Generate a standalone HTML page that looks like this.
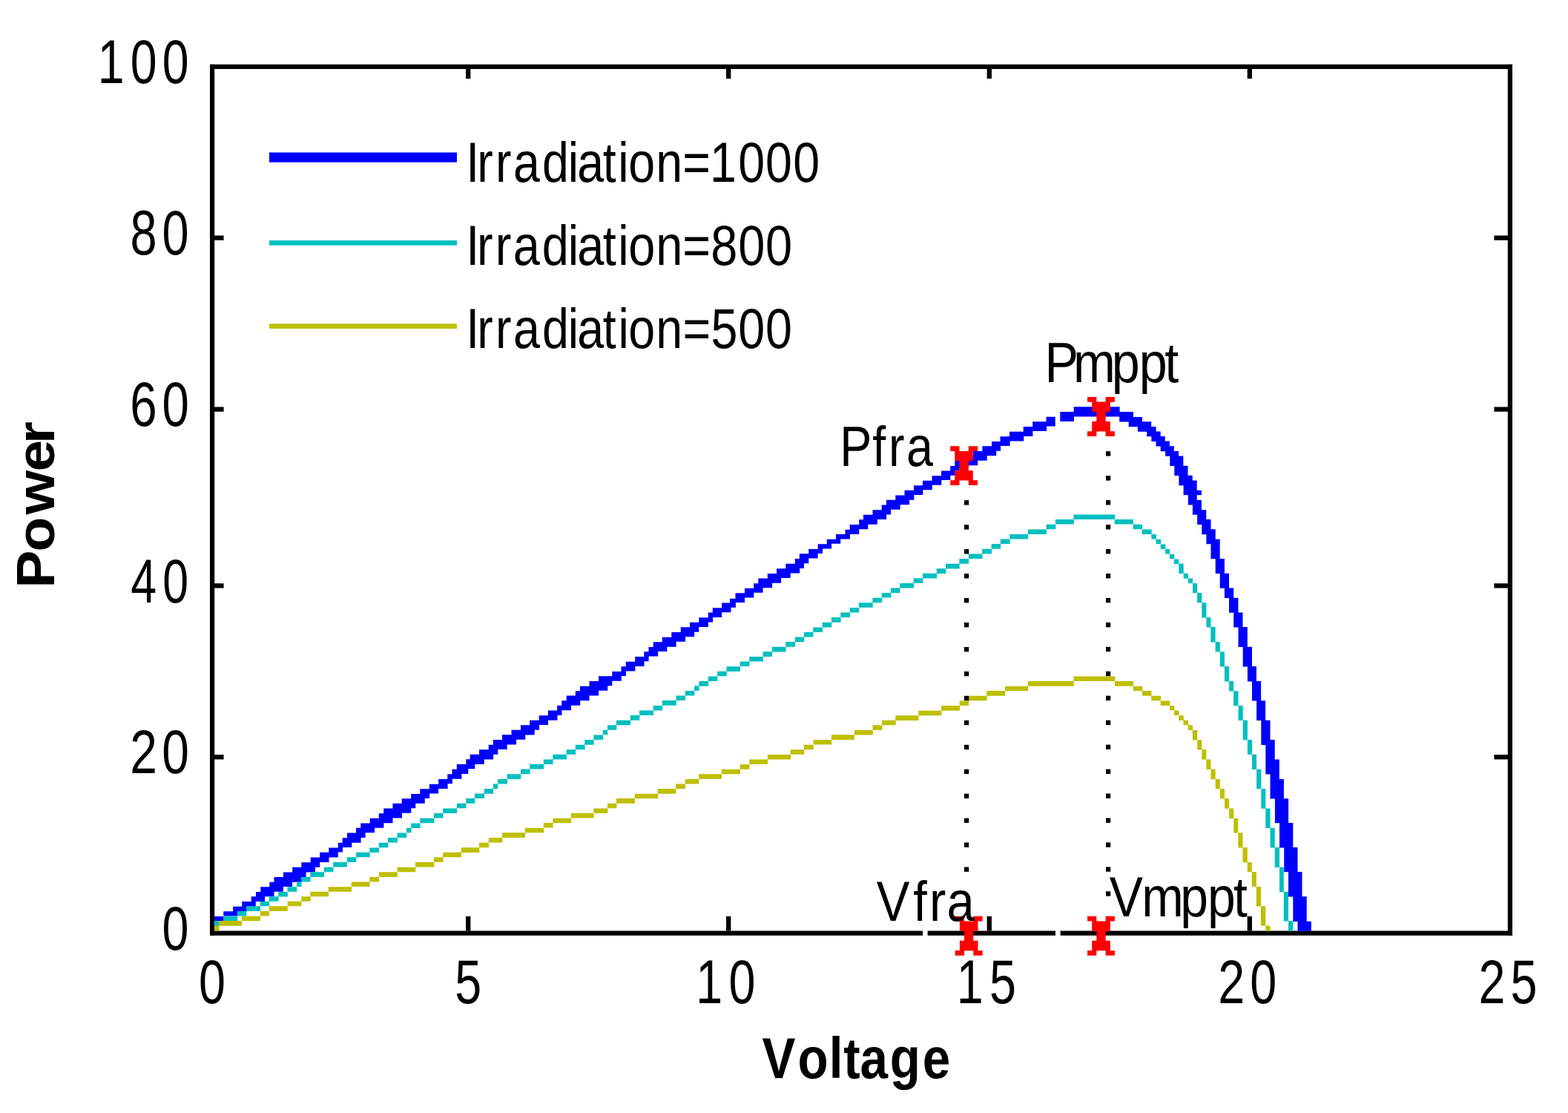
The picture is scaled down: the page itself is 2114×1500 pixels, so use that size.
<!DOCTYPE html>
<html><head><meta charset="utf-8"><title>PV curves</title>
<style>html,body{margin:0;padding:0;background:#fff;}svg{display:block;}</style>
</head><body>
<svg width="2114" height="1500" viewBox="0 0 2114 1500" font-family="'Liberation Sans', Arial, Helvetica, sans-serif">
<rect width="2114" height="1500" fill="#fff"/>
<rect x="283" y="86.8" width="6.2" height="1174" fill="#000"/>
<rect x="2032.8" y="86.8" width="6.2" height="1174" fill="#000"/>
<rect x="283" y="86.8" width="1756" height="6.2" fill="#000"/>
<rect x="283" y="1254.5" width="1756" height="6.3" fill="#000"/>
<rect x="628.05" y="93" width="6.3" height="13" fill="#000"/>
<rect x="628.05" y="1234.9" width="6.3" height="19.6" fill="#000"/>
<rect x="979.05" y="93" width="6.3" height="13" fill="#000"/>
<rect x="979.05" y="1234.9" width="6.3" height="19.6" fill="#000"/>
<rect x="1330.65" y="93" width="6.3" height="13" fill="#000"/>
<rect x="1330.65" y="1234.9" width="6.3" height="19.6" fill="#000"/>
<rect x="1681.65" y="93" width="6.3" height="13" fill="#000"/>
<rect x="1681.65" y="1234.9" width="6.3" height="19.6" fill="#000"/>
<rect x="289" y="317.45" width="12.6" height="6.3" fill="#000"/>
<rect x="2014.4" y="317.45" width="18.6" height="6.3" fill="#000"/>
<rect x="289" y="548.45" width="12.6" height="6.3" fill="#000"/>
<rect x="2014.4" y="548.45" width="18.6" height="6.3" fill="#000"/>
<rect x="289" y="786.25" width="12.6" height="6.3" fill="#000"/>
<rect x="2014.4" y="786.25" width="18.6" height="6.3" fill="#000"/>
<rect x="289" y="1017.15" width="12.6" height="6.3" fill="#000"/>
<rect x="2014.4" y="1017.15" width="18.6" height="6.3" fill="#000"/>
<rect x="1244" y="1254" width="6.6" height="7.5" fill="#fff"/>
<rect x="1423" y="1254" width="6.6" height="7.5" fill="#fff"/>
<path d="M289.0 1235.0h12.6v6.6h-12.6zM301.3 1228.3h13.2v6.3h-13.2zM314.2 1221.7h5.9v12.9h-5.9zM319.8 1221.7h6.8v6.6h-6.8zM326.3 1215.0h6.2v13.3h-6.2zM332.2 1215.0h6.8v6.7h-6.8zM338.7 1208.3h6.1v13.4h-6.1zM344.5 1208.3h0.8v6.7h-0.8zM345.0 1202.0h6.6v13.0h-6.6zM351.3 1195.3h5.8v19.7h-5.8zM356.8 1195.3h6.8v13.0h-6.8zM363.3 1188.7h6.2v19.6h-6.2zM369.2 1188.7h0.6v13.0h-0.6zM369.5 1182.0h12.3v19.7h-12.3zM381.5 1182.0h0.8v13.0h-0.8zM382.0 1175.5h12.1v19.5h-12.1zM393.8 1175.5h0.7v13.2h-0.7zM394.2 1168.8h12.3v20.0h-12.3zM406.2 1168.8h0.4v13.3h-0.4zM406.3 1162.2h6.3v19.9h-6.3zM412.3 1162.2h6.7v13.2h-6.7zM418.7 1155.5h6.3v19.9h-6.3zM424.7 1155.5h6.6v13.2h-6.6zM431.0 1155.5h0.5v6.6h-0.5zM431.2 1148.8h12.3v13.3h-12.3zM443.2 1148.8h0.4v6.6h-0.4zM443.3 1142.5h12.5v12.9h-12.5zM455.5 1142.5h0.6v6.0h-0.6zM455.8 1135.8h6.2v12.7h-6.2zM461.7 1129.2h6.6v12.9h-6.6zM468.0 1122.5h6.3v19.6h-6.3zM474.0 1122.5h6.3v13.2h-6.3zM480.0 1115.8h6.6v19.9h-6.6zM486.3 1109.5h6.3v19.5h-6.3zM492.3 1109.5h6.7v12.8h-6.7zM498.7 1102.8h6.4v19.5h-6.4zM504.8 1102.8h6.3v13.0h-6.3zM510.8 1096.2h6.6v19.6h-6.6zM517.1 1096.2h0.4v13.0h-0.4zM517.2 1089.5h12.3v19.7h-12.3zM529.2 1089.5h0.6v13.0h-0.6zM529.5 1082.8h12.5v19.7h-12.5zM541.7 1076.2h12.6v19.6h-12.6zM554.0 1076.2h0.5v13.0h-0.5zM554.2 1070.0h6.1v19.2h-6.1zM560.0 1070.0h6.6v12.7h-6.6zM566.3 1063.3h6.5v19.4h-6.5zM572.5 1063.3h6.6v12.7h-6.6zM578.8 1056.7h12.3v12.9h-12.3zM590.8 1056.7h0.7v6.2h-0.7zM591.2 1050.0h12.4v12.9h-12.4zM603.3 1043.3h6.5v13.0h-6.5zM609.5 1036.7h0.4v19.6h-0.4zM609.6 1036.7h6.5v13.1h-6.5zM615.8 1030.0h6.6v19.8h-6.6zM622.1 1030.0h6.5v12.9h-6.5zM628.3 1023.3h3.0v19.6h-3.0zM631.0 1023.3h3.0v13.0h-3.0zM633.7 1016.7h6.6v19.6h-6.6zM640.0 1016.7h6.3v13.3h-6.3zM646.0 1010.3h6.8v19.7h-6.8zM652.5 1010.3h6.5v13.2h-6.5zM658.7 1003.7h6.4v19.8h-6.4zM664.8 997.0h6.5v19.8h-6.5zM671.0 997.0h6.3v13.0h-6.3zM677.0 990.3h6.6v19.7h-6.6zM683.3 990.3h6.5v13.2h-6.5zM689.5 983.8h6.6v19.7h-6.6zM695.8 983.8h6.5v13.0h-6.5zM702.0 977.2h6.2v19.6h-6.2zM707.9 977.2h6.6v13.2h-6.6zM714.2 970.8h6.5v19.6h-6.5zM720.4 970.8h6.6v13.0h-6.6zM726.7 964.2h12.3v12.9h-12.3zM738.8 957.5h12.7v13.2h-12.7zM751.1 957.5h0.4v6.5h-0.4zM751.2 950.8h6.3v13.2h-6.3zM757.3 944.2h6.7v13.1h-6.7zM763.7 937.5h6.3v19.8h-6.3zM769.8 937.5h6.3v13.3h-6.3zM775.8 931.2h6.4v19.6h-6.4zM781.9 931.2h0.4v13.0h-0.4zM782.0 924.7h12.5v19.5h-12.5zM794.2 924.7h0.6v12.8h-0.6zM794.5 918.0h12.6v19.5h-12.6zM806.8 918.0h0.5v12.8h-0.5zM807.0 911.3h12.3v19.5h-12.3zM819.0 911.3h6.3v12.9h-6.3zM825.0 911.3h0.6v6.4h-0.6zM825.3 905.0h12.5v12.7h-12.5zM837.5 898.3h6.5v12.7h-6.5zM843.8 891.7h12.6v12.9h-12.6zM856.0 891.7h0.5v6.2h-0.5zM856.2 885.0h12.3v12.9h-12.3zM868.2 885.0h0.4v6.2h-0.4zM868.3 878.3h6.3v13.0h-6.3zM874.3 878.3h0.5v6.3h-0.5zM874.5 872.0h6.5v12.6h-6.5zM880.7 865.3h6.4v19.3h-6.4zM886.8 865.3h6.3v12.8h-6.3zM892.8 858.7h6.5v19.4h-6.5zM899.0 858.7h6.6v13.0h-6.6zM905.3 852.0h6.3v19.7h-6.3zM911.2 852.0h6.8v12.8h-6.8zM917.8 845.3h6.3v19.5h-6.3zM923.8 845.3h6.5v13.0h-6.5zM930.0 838.8h6.1v19.5h-6.1zM935.8 838.8h6.5v12.9h-6.5zM942.0 838.8h0.6v6.2h-0.6zM942.3 832.2h12.6v12.8h-12.6zM954.6 832.2h0.5v6.3h-0.5zM954.8 825.5h6.3v13.0h-6.3zM960.8 819.2h12.4v12.8h-12.4zM972.9 819.2h0.6v6.1h-0.6zM973.2 812.5h11.1v12.8h-11.1zM984.0 806.7h1.5v18.6h-1.5zM985.2 806.7h6.6v12.0h-6.6zM991.5 799.2h0.5v19.5h-0.5zM991.7 799.2h12.3v12.8h-12.3zM1003.8 799.2h0.6v6.3h-0.6zM1004.0 792.8h12.3v12.7h-12.3zM1016.0 792.8h0.5v6.0h-0.5zM1016.2 786.2h6.4v12.6h-6.4zM1022.3 779.5h6.3v19.3h-6.3zM1028.3 779.5h6.8v12.8h-6.8zM1034.8 773.0h6.3v19.3h-6.3zM1040.8 773.0h6.5v12.7h-6.5zM1047.0 766.3h6.2v19.4h-6.2zM1052.9 766.3h6.7v12.8h-6.7zM1059.3 759.7h6.4v19.4h-6.4zM1065.4 759.7h6.7v12.7h-6.7zM1071.8 753.0h6.3v19.4h-6.3zM1077.8 746.3h0.4v26.1h-0.4zM1077.9 746.3h6.1v19.6h-6.1zM1083.8 746.3h6.5v13.0h-6.5zM1090.0 746.3h0.5v6.3h-0.5zM1090.2 740.0h12.4v12.6h-12.4zM1102.3 740.0h0.7v6.1h-0.7zM1102.7 733.3h6.3v12.8h-6.3zM1108.8 733.3h6.3v6.2h-6.3zM1114.8 726.7h6.3v12.8h-6.3zM1120.8 726.7h6.5v6.0h-6.5zM1127.0 720.0h6.2v12.8h-6.2zM1132.9 720.0h6.9v6.4h-6.9zM1139.5 713.7h6.5v12.7h-6.5zM1145.7 707.0h12.5v12.9h-12.5zM1157.9 707.0h0.6v6.2h-0.6zM1158.2 700.3h6.1v13.0h-6.1zM1164.0 693.8h6.3v19.5h-6.3zM1170.0 693.8h6.8v13.0h-6.8zM1176.5 687.2h6.3v19.6h-6.3zM1182.5 687.2h6.5v12.7h-6.5zM1188.7 680.5h6.4v19.4h-6.4zM1194.8 673.8h6.3v19.7h-6.3zM1200.8 673.8h6.8v13.0h-6.8zM1207.3 667.5h6.3v19.2h-6.3zM1213.3 667.5h6.5v12.7h-6.5zM1219.5 660.8h6.6v19.4h-6.6zM1225.8 660.8h6.5v12.9h-6.5zM1232.0 654.2h0.4v19.5h-0.4zM1232.1 654.2h12.2v12.8h-12.2zM1244.0 647.8h12.8v12.5h-12.8zM1256.5 641.2h12.8v12.5h-12.8zM1269.0 634.5h12.3v12.5h-12.3zM1281.0 634.5h0.5v6.2h-0.5zM1281.2 628.0h6.4v12.8h-6.4zM1287.3 621.1h0.5v19.6h-0.5zM1287.5 621.1h6.1v12.9h-6.1zM1293.3 621.1h6.5v9.4h-6.5zM1299.5 614.5h6.6v16.0h-6.6zM1305.8 614.5h6.6v12.8h-6.6zM1312.1 608.0h6.1v19.3h-6.1zM1317.9 608.0h6.8v12.7h-6.8zM1324.4 601.3h6.3v19.4h-6.3zM1330.4 601.3h6.9v12.9h-6.9zM1337.0 595.0h6.2v19.2h-6.2zM1342.9 595.0h5.9v12.7h-5.9zM1348.5 588.3h0.6v19.4h-0.6zM1348.8 588.3h12.6v12.7h-12.6zM1361.0 581.7h0.6v19.3h-0.6zM1361.2 581.7h18.8v12.9h-18.8zM1379.7 575.0h0.6v19.6h-0.6zM1380.0 575.0h12.4v12.9h-12.4zM1392.1 575.0h0.4v6.0h-0.4zM1392.2 568.3h18.6v12.7h-18.6zM1410.5 561.7h0.5v19.3h-0.5zM1410.7 561.7h12.0v12.9h-12.0zM1429.3 555.0h18.7v12.9h-18.7zM1447.7 548.3h61.9v13.2h-61.9zM1509.2 555.1h18.7v7.1h-18.7zM1509.2 561.9h30.7v6.7h-30.7zM1521.7 568.3h30.5v6.9h-30.5zM1533.9 574.9h24.7v6.8h-24.7zM1546.2 581.4h18.5v6.9h-18.5zM1552.4 588.0h18.3v6.9h-18.3zM1558.5 594.6h18.4v7.0h-18.4zM1564.7 601.3h18.1v7.0h-18.1zM1571.1 608.0h17.9v6.8h-17.9zM1577.3 614.5h18.0v13.5h-18.0zM1583.3 627.7h18.2v13.4h-18.2zM1589.4 640.8h18.3v7.0h-18.3zM1589.4 647.5h24.3v6.7h-24.3zM1595.6 653.9h18.1v7.1h-18.1zM1595.6 660.7h24.3v6.5h-24.3zM1601.8 666.9h11.9v7.3h-11.9zM1601.8 673.9h18.1v6.7h-18.1zM1607.9 680.3h12.0v7.2h-12.0zM1607.9 687.2h18.3v6.5h-18.3zM1614.1 693.4h12.1v7.0h-12.1zM1614.1 700.1h18.4v6.9h-18.4zM1620.3 706.7h12.2v6.9h-12.2zM1620.3 713.3h18.4v6.9h-18.4zM1626.4 719.9h12.3v7.2h-12.3zM1626.4 726.8h18.3v6.5h-18.3zM1632.5 733.0h12.2v20.2h-12.2zM1638.7 752.9h12.2v20.1h-12.2zM1644.7 772.7h12.3v20.0h-12.3zM1650.9 792.4h12.3v13.6h-12.3zM1657.0 805.7h12.4v20.1h-12.4zM1663.2 825.5h12.3v20.0h-12.3zM1669.5 845.1h12.3v27.0h-12.3zM1675.7 871.8h12.3v26.6h-12.3zM1681.9 898.1h12.0v20.3h-12.0zM1688.0 918.1h12.1v26.4h-12.1zM1694.1 944.2h12.0v26.8h-12.0zM1700.3 970.7h12.2v26.6h-12.2zM1700.3 997.0h18.4v7.0h-18.4zM1706.3 1003.7h12.4v20.1h-12.4zM1706.3 1023.5h18.5v20.0h-18.5zM1712.5 1043.2h12.3v7.0h-12.3zM1712.5 1049.9h18.4v26.7h-18.4zM1718.9 1076.3h18.2v33.0h-18.2zM1725.0 1109.0h18.3v33.4h-18.3zM1731.2 1142.1h18.3v33.2h-18.3zM1737.0 1175.0h18.5v33.6h-18.5zM1743.3 1208.3h18.4v33.7h-18.4zM1749.5 1241.7h18.3v13.1h-18.3z" fill="#0000ff"/>
<path d="M289.0 1241.1h6.6v6.6h-6.6zM301.3 1234.7h19.0v6.6h-19.0zM320.0 1228.0h12.3v6.6h-12.3zM332.0 1221.3h19.1v6.6h-19.1zM350.8 1214.7h12.3v6.6h-12.3zM362.8 1208.2h12.8v6.6h-12.8zM375.3 1201.9h12.5v6.6h-12.5zM387.5 1195.2h12.8v6.6h-12.8zM400.0 1188.5h6.5v6.6h-6.5zM406.2 1181.9h12.4v6.6h-12.4zM418.3 1175.3h18.7v6.6h-18.7zM436.7 1168.7h12.8v6.6h-12.8zM449.2 1162.0h18.9v6.6h-18.9zM467.8 1155.3h12.5v6.6h-12.5zM480.0 1148.7h18.6v6.6h-18.6zM498.3 1142.4h12.8v6.6h-12.8zM510.8 1135.7h12.5v6.6h-12.5zM523.0 1129.0h12.8v6.6h-12.8zM535.5 1122.4h12.8v6.6h-12.8zM548.0 1115.7h6.5v6.6h-6.5zM554.2 1109.4h12.4v6.6h-12.4zM566.3 1102.7h19.0v6.6h-19.0zM585.0 1096.0h12.5v6.6h-12.5zM597.2 1089.4h18.9v6.6h-18.9zM615.8 1082.7h12.8v6.6h-12.8zM628.3 1076.1h12.0v6.6h-12.0zM640.0 1069.5h13.1v6.6h-13.1zM652.8 1063.1h12.3v6.6h-12.3zM664.8 1056.5h6.5v6.6h-6.5zM671.0 1050.0h13.0v6.6h-13.0zM683.7 1043.3h18.6v6.6h-18.6zM702.0 1036.6h12.5v6.6h-12.5zM714.2 1030.0h18.9v6.6h-18.9zM732.8 1023.5h12.8v6.6h-12.8zM745.3 1016.8h18.7v6.6h-18.7zM763.7 1010.2h12.4v6.6h-12.4zM775.8 1003.7h12.8v6.6h-12.8zM788.3 997.1h12.3v6.6h-12.3zM800.3 990.4h12.8v6.6h-12.8zM812.8 983.7h6.5v6.6h-6.5zM819.0 977.2h12.3v6.6h-12.3zM831.0 970.7h19.1v6.6h-19.1zM849.8 964.1h12.5v6.6h-12.5zM862.0 957.5h19.0v6.6h-19.0zM880.7 950.9h12.4v6.6h-12.4zM892.8 944.1h19.0v6.6h-19.0zM911.5 937.5h12.5v6.6h-12.5zM923.7 930.9h12.6v6.6h-12.6zM936.0 924.5h6.6v6.6h-6.6zM942.3 918.1h12.8v6.6h-12.8zM954.8 911.4h12.5v6.6h-12.5zM967.0 904.7h12.8v6.6h-12.8zM979.5 898.3h18.5v6.6h-18.5zM997.7 891.5h12.8v6.6h-12.8zM1010.2 884.9h18.8v6.6h-18.8zM1028.7 878.3h12.4v6.6h-12.4zM1040.8 871.8h18.8v6.6h-18.8zM1059.3 865.1h12.8v6.6h-12.8zM1071.8 858.6h12.4v6.6h-12.4zM1083.9 851.9h12.6v6.6h-12.6zM1096.2 845.4h12.8v6.6h-12.8zM1108.7 838.8h12.6v6.6h-12.6zM1121.0 832.1h12.6v6.6h-12.6zM1133.3 825.5h12.6v6.6h-12.6zM1145.6 818.9h12.6v6.6h-12.6zM1157.9 812.2h18.8v6.6h-18.8zM1176.4 805.7h12.6v6.6h-12.6zM1188.7 799.0h12.6v6.6h-12.6zM1201.0 792.5h12.5v6.6h-12.5zM1213.2 786.0h18.8v6.6h-18.8zM1231.7 779.3h12.6v6.6h-12.6zM1244.0 772.8h19.0v6.6h-19.0zM1262.7 766.3h12.6v6.6h-12.6zM1275.0 759.8h18.6v6.6h-18.6zM1293.3 753.1h12.8v6.6h-12.8zM1305.8 746.4h18.7v6.6h-18.7zM1324.2 739.8h12.8v6.6h-12.8zM1336.7 733.1h12.4v6.6h-12.4zM1348.8 726.4h12.8v6.6h-12.8zM1361.3 720.0h24.8v6.6h-24.8zM1385.8 713.4h25.0v6.6h-25.0zM1410.5 706.7h12.8v6.6h-12.8zM1423.0 700.0h24.8v6.6h-24.8zM1447.5 693.5h55.6v6.6h-55.6zM1502.8 700.0h25.2v6.6h-25.2zM1527.7 706.7h12.3v6.6h-12.3zM1539.7 713.4h12.9v6.6h-12.9zM1552.3 720.0h6.5v6.6h-6.5zM1558.5 726.7h6.5v6.6h-6.5zM1564.7 733.4h6.6v6.6h-6.6zM1571.0 740.0h6.1v6.6h-6.1zM1576.8 746.7h6.5v6.6h-6.5zM1583.0 753.4h6.3v6.6h-6.3zM1589.3 759.5h6.4v13.5h-6.4zM1595.7 772.7h6.2v7.0h-6.2zM1601.9 779.4h6.1v6.9h-6.1zM1608.0 786.0h6.1v13.3h-6.1zM1614.1 799.0h6.2v13.6h-6.2zM1620.3 812.3h6.1v20.1h-6.1zM1626.4 832.1h6.0v13.4h-6.0zM1632.3 845.1h6.3v20.3h-6.3zM1638.6 865.1h6.2v13.4h-6.2zM1644.8 878.2h6.1v20.2h-6.1zM1650.9 898.1h6.2v20.3h-6.2zM1657.1 918.1h6.0v13.4h-6.0zM1663.1 931.2h6.4v20.0h-6.4zM1669.5 950.9h6.2v20.1h-6.2zM1675.7 970.7h6.2v26.6h-6.2zM1681.9 997.0h6.1v20.0h-6.1zM1688.0 1016.7h6.1v20.4h-6.1zM1694.1 1036.8h6.2v26.4h-6.2zM1700.3 1062.9h6.0v26.8h-6.0zM1706.3 1089.4h6.2v26.6h-6.2zM1712.5 1115.7h6.2v26.7h-6.2zM1718.7 1142.1h6.3v26.9h-6.3zM1725.0 1168.7h5.8v33.3h-5.8zM1730.8 1201.7h6.2v39.9h-6.2zM1737.0 1241.3h6.3v13.5h-6.3z" fill="#00bfbf"/>
<path d="M289.0 1247.7h6.6v6.6h-6.6zM295.3 1241.1h30.8v6.6h-30.8zM325.8 1234.7h25.3v6.6h-25.3zM350.8 1228.0h12.3v6.6h-12.3zM362.8 1221.3h25.0v6.6h-25.0zM387.5 1214.7h19.0v6.6h-19.0zM406.2 1208.2h12.4v6.6h-12.4zM418.3 1201.7h24.8v6.6h-24.8zM442.8 1195.2h31.2v6.6h-31.2zM473.7 1188.5h24.9v6.6h-24.9zM498.3 1181.9h12.8v6.6h-12.8zM510.8 1175.3h25.0v6.6h-25.0zM535.5 1168.7h24.8v6.6h-24.8zM560.0 1162.0h25.3v6.6h-25.3zM585.0 1155.3h12.5v6.6h-12.5zM597.2 1148.7h24.8v6.6h-24.8zM621.7 1142.3h24.6v6.6h-24.6zM646.0 1135.7h13.0v6.6h-13.0zM658.7 1128.9h18.6v6.6h-18.6zM677.0 1122.3h31.1v6.6h-31.1zM707.8 1115.7h25.3v6.6h-25.3zM732.8 1109.0h12.8v6.6h-12.8zM745.3 1102.7h24.8v6.6h-24.8zM769.8 1096.0h30.8v6.6h-30.8zM800.3 1089.4h19.0v6.6h-19.0zM819.0 1082.7h12.3v6.6h-12.3zM831.0 1076.1h25.1v6.6h-25.1zM855.8 1069.7h31.2v6.6h-31.2zM886.7 1063.1h24.6v6.6h-24.6zM911.0 1056.5h13.0v6.6h-13.0zM923.7 1049.9h18.6v6.6h-18.6zM942.0 1043.2h31.1v6.6h-31.1zM972.8 1036.7h25.2v6.6h-25.2zM997.7 1030.2h12.8v6.6h-12.8zM1010.2 1023.5h24.9v6.6h-24.9zM1034.8 1016.9h31.2v6.6h-31.2zM1065.7 1010.2h18.6v6.6h-18.6zM1084.0 1003.7h12.8v6.6h-12.8zM1096.5 997.0h24.8v6.6h-24.8zM1121.0 990.3h31.1v6.6h-31.1zM1151.8 983.9h25.0v6.6h-25.0zM1176.5 977.3h12.8v6.6h-12.8zM1189.0 970.7h18.6v6.6h-18.6zM1207.3 964.3h31.2v6.6h-31.2zM1238.2 957.7h31.1v6.6h-31.1zM1269.0 951.1h25.0v6.6h-25.0zM1293.7 944.4h12.4v6.6h-12.4zM1305.8 937.7h24.8v6.6h-24.8zM1330.3 931.1h25.0v6.6h-25.0zM1355.0 924.7h31.1v6.6h-31.1zM1385.8 918.1h62.0v6.6h-62.0zM1447.5 911.4h55.8v6.6h-55.8zM1503.0 918.1h25.1v6.6h-25.1zM1527.8 924.7h12.5v6.6h-12.5zM1540.0 931.1h12.5v6.6h-12.5zM1552.2 937.7h12.8v6.6h-12.8zM1564.7 944.4h12.6v6.6h-12.6zM1577.0 950.9h6.3v6.6h-6.3zM1583.0 957.5h6.5v6.6h-6.5zM1589.2 964.3h6.6v6.6h-6.6zM1595.5 970.7h6.5v6.6h-6.5zM1601.7 977.3h6.4v6.6h-6.4zM1607.8 984.0h6.4v13.5h-6.4zM1614.2 997.2h6.1v13.4h-6.1zM1620.3 1010.3h6.0v13.5h-6.0zM1626.3 1023.5h6.2v13.6h-6.2zM1632.5 1036.8h6.2v13.4h-6.2zM1638.7 1049.9h6.1v13.3h-6.1zM1644.8 1062.9h6.2v13.7h-6.2zM1651.0 1076.3h6.1v13.4h-6.1zM1657.1 1089.4h6.2v13.6h-6.2zM1663.3 1102.7h6.0v19.9h-6.0zM1669.3 1122.3h6.2v20.1h-6.2zM1675.5 1142.1h6.3v20.2h-6.3zM1681.8 1162.0h6.0v13.3h-6.0zM1687.8 1175.0h6.0v20.3h-6.0zM1693.8 1195.0h6.2v26.6h-6.2zM1700.0 1221.3h6.3v26.5h-6.3zM1706.3 1247.5h6.2v7.3h-6.2z" fill="#bfbf00"/>
<g fill="#000"><rect x="1300" y="674.2" width="6.2" height="6.4"/><rect x="1300" y="707.2" width="6.2" height="6.4"/><rect x="1300" y="740.1" width="6.2" height="6.4"/><rect x="1300" y="773.1" width="6.2" height="6.4"/><rect x="1300" y="806.0" width="6.2" height="6.4"/><rect x="1300" y="839.0" width="6.2" height="6.4"/><rect x="1300" y="872.0" width="6.2" height="6.4"/><rect x="1300" y="904.9" width="6.2" height="6.4"/><rect x="1300" y="937.8" width="6.2" height="6.4"/><rect x="1300" y="970.8" width="6.2" height="6.4"/><rect x="1300" y="1003.8" width="6.2" height="6.4"/><rect x="1300" y="1036.7" width="6.2" height="6.4"/><rect x="1300" y="1069.7" width="6.2" height="6.4"/><rect x="1300" y="1102.6" width="6.2" height="6.4"/><rect x="1300" y="1135.5" width="6.2" height="6.4"/><rect x="1300" y="1168.5" width="6.2" height="6.4"/><rect x="1491" y="608.2" width="6.2" height="6.4"/><rect x="1491" y="641.2" width="6.2" height="6.4"/><rect x="1491" y="674.1" width="6.2" height="6.4"/><rect x="1491" y="707.1" width="6.2" height="6.4"/><rect x="1491" y="740.0" width="6.2" height="6.4"/><rect x="1491" y="773.0" width="6.2" height="6.4"/><rect x="1491" y="805.9" width="6.2" height="6.4"/><rect x="1491" y="838.9" width="6.2" height="6.4"/><rect x="1491" y="871.8" width="6.2" height="6.4"/><rect x="1491" y="904.8" width="6.2" height="6.4"/><rect x="1491" y="937.7" width="6.2" height="6.4"/><rect x="1491" y="970.7" width="6.2" height="6.4"/><rect x="1491" y="1003.6" width="6.2" height="6.4"/><rect x="1491" y="1036.6" width="6.2" height="6.4"/><rect x="1491" y="1069.5" width="6.2" height="6.4"/><rect x="1491" y="1102.5" width="6.2" height="6.4"/><rect x="1491" y="1135.4" width="6.2" height="6.4"/><rect x="1491" y="1168.4" width="6.2" height="6.4"/><rect x="1491" y="1201.3" width="6.2" height="6.4"/></g>
<path fill="#ff0000" d="M1466.0 535.0h12.3v6.8h-12.3zM1490.6 535.0h12.3v6.8h-12.3zM1472.2 541.6h24.6v6.8h-24.6zM1472.2 548.2h24.6v6.8h-24.6zM1478.3 554.8h12.3v6.8h-12.3zM1478.3 561.4h12.3v6.8h-12.3zM1472.2 568.0h24.6v6.8h-24.6zM1472.2 574.6h24.6v6.8h-24.6zM1466.0 581.2h12.3v6.8h-12.3zM1490.6 581.2h12.3v6.8h-12.3zM1281.2 601.3h12.3v6.8h-12.3zM1305.7 601.3h12.3v6.8h-12.3zM1287.3 607.9h24.5v6.8h-24.5zM1287.3 614.4h24.5v6.8h-24.5zM1293.5 621.0h12.3v6.8h-12.3zM1293.5 627.6h12.3v6.8h-12.3zM1287.3 634.2h24.5v6.8h-24.5zM1287.3 640.8h24.5v6.8h-24.5zM1281.2 647.3h12.3v6.8h-12.3zM1305.7 647.3h12.3v6.8h-12.3zM1287.7 1234.8h12.3v6.8h-12.3zM1312.3 1234.8h12.3v6.8h-12.3zM1293.9 1241.4h24.6v6.8h-24.6zM1293.9 1248.0h24.6v6.8h-24.6zM1300.0 1254.6h12.3v6.8h-12.3zM1300.0 1261.2h12.3v6.8h-12.3zM1293.9 1267.8h24.6v6.8h-24.6zM1293.9 1274.4h24.6v6.8h-24.6zM1287.7 1281.0h12.3v6.8h-12.3zM1312.3 1281.0h12.3v6.8h-12.3zM1466.0 1234.8h12.3v6.8h-12.3zM1490.6 1234.8h12.3v6.8h-12.3zM1472.2 1241.4h24.6v6.8h-24.6zM1472.2 1248.0h24.6v6.8h-24.6zM1478.3 1254.6h12.3v6.8h-12.3zM1478.3 1261.2h12.3v6.8h-12.3zM1472.2 1267.8h24.6v6.8h-24.6zM1472.2 1274.4h24.6v6.8h-24.6zM1466.0 1281.0h12.3v6.8h-12.3zM1490.6 1281.0h12.3v6.8h-12.3z"/>
<rect x="363" y="205.5" width="253" height="13.2" fill="#0000ff"/>
<rect x="363" y="324" width="253" height="6.6" fill="#00bfbf"/>
<rect x="363" y="436.3" width="253" height="6.6" fill="#bfbf00"/>
<text transform="translate(0,244.70) scale(0.8440,1)" y="0" font-size="76.45" font-weight="normal" fill="#000"><tspan x="744.36">I</tspan><tspan x="762.11">r</tspan><tspan x="791.37">r</tspan><tspan x="819.92">a</tspan><tspan x="866.03">d</tspan><tspan x="907.24">i</tspan><tspan x="922.11">a</tspan><tspan x="963.03">t</tspan><tspan x="987.39">i</tspan><tspan x="1003.91">o</tspan><tspan x="1047.81">n</tspan><tspan x="1090.48">=</tspan><tspan x="1133.99">1</tspan><tspan x="1179.27">0</tspan><tspan x="1222.87">0</tspan><tspan x="1266.76">0</tspan></text>
<text transform="translate(0,356.90) scale(0.8493,1)" y="0" font-size="76.45" font-weight="normal" fill="#000"><tspan x="739.63">I</tspan><tspan x="757.25">r</tspan><tspan x="786.33">r</tspan><tspan x="814.64">a</tspan><tspan x="860.48">d</tspan><tspan x="901.51">i</tspan><tspan x="916.20">a</tspan><tspan x="956.93">t</tspan><tspan x="981.16">i</tspan><tspan x="997.49">o</tspan><tspan x="1041.12">n</tspan><tspan x="1083.51">=</tspan><tspan x="1128.28">8</tspan><tspan x="1171.75">0</tspan><tspan x="1215.08">0</tspan></text>
<text transform="translate(0,469.10) scale(0.8481,1)" y="0" font-size="76.16" font-weight="normal" fill="#000"><tspan x="740.78">I</tspan><tspan x="758.45">r</tspan><tspan x="787.57">r</tspan><tspan x="815.97">a</tspan><tspan x="861.86">d</tspan><tspan x="902.89">i</tspan><tspan x="917.67">a</tspan><tspan x="958.40">t</tspan><tspan x="982.66">i</tspan><tspan x="999.08">o</tspan><tspan x="1042.77">n</tspan><tspan x="1085.24">=</tspan><tspan x="1130.07">5</tspan><tspan x="1173.60">0</tspan><tspan x="1216.99">0</tspan></text>
<text transform="translate(0,111.96) scale(0.7702,1)" y="0" font-size="83.62" font-weight="normal" fill="#000"><tspan x="171.05">1</tspan><tspan x="228.07">0</tspan><tspan x="283.96">0</tspan></text>
<text transform="translate(0,343.16) scale(0.7698,1)" y="0" font-size="84.32" font-weight="normal" fill="#000"><tspan x="228.09">8</tspan><tspan x="283.91">0</tspan></text>
<text transform="translate(0,574.16) scale(0.7761,1)" y="0" font-size="84.32" font-weight="normal" fill="#000"><tspan x="225.73">6</tspan><tspan x="281.41">0</tspan></text>
<text transform="translate(0,811.66) scale(0.7429,1)" y="0" font-size="84.32" font-weight="normal" fill="#000"><tspan x="237.42">4</tspan><tspan x="295.05">0</tspan></text>
<text transform="translate(0,1042.16) scale(0.7892,1)" y="0" font-size="83.62" font-weight="normal" fill="#000"><tspan x="222.10">2</tspan><tspan x="276.54">0</tspan></text>
<text transform="translate(0,1279.87) scale(0.7750,1)" y="0" font-size="83.47" font-weight="normal" fill="#000"><tspan x="282.09">0</tspan></text>
<text transform="translate(0,1352.47) scale(0.7750,1)" y="0" font-size="83.47" font-weight="normal" fill="#000"><tspan x="345.89">0</tspan></text>
<text transform="translate(0,1352.47) scale(0.7750,1)" y="0" font-size="83.47" font-weight="normal" fill="#000"><tspan x="791.29">5</tspan></text>
<text transform="translate(0,1352.47) scale(0.7750,1)" y="0" font-size="83.47" font-weight="normal" fill="#000"><tspan x="1210.78">1</tspan><tspan x="1267.70">0</tspan></text>
<text transform="translate(0,1352.47) scale(0.7750,1)" y="0" font-size="83.47" font-weight="normal" fill="#000"><tspan x="1664.32">1</tspan><tspan x="1721.35">5</tspan></text>
<text transform="translate(0,1352.47) scale(0.7750,1)" y="0" font-size="83.47" font-weight="normal" fill="#000"><tspan x="2118.90">2</tspan><tspan x="2174.67">0</tspan></text>
<text transform="translate(0,1352.47) scale(0.7750,1)" y="0" font-size="83.47" font-weight="normal" fill="#000"><tspan x="2572.32">2</tspan><tspan x="2627.80">5</tspan></text>
<text transform="translate(0,515.10) scale(0.8975,1)" y="0" font-size="76.02" font-weight="normal" fill="#000"><tspan x="1569.45">P</tspan><tspan x="1612.19">m</tspan><tspan x="1669.79">p</tspan><tspan x="1711.13">p</tspan><tspan x="1749.70">t</tspan></text>
<text transform="translate(0,627.60) scale(0.8442,1)" y="0" font-size="76.60" font-weight="normal" fill="#000"><tspan x="1341.33">P</tspan><tspan x="1393.23">f</tspan><tspan x="1419.16">r</tspan><tspan x="1447.51">a</tspan></text>
<text transform="translate(0,1240.90) scale(0.8807,1)" y="0" font-size="76.16" font-weight="normal" fill="#000"><tspan x="1341.92">V</tspan><tspan x="1398.11">f</tspan><tspan x="1422.62">r</tspan><tspan x="1449.49">a</tspan></text>
<text transform="translate(0,1234.60) scale(0.8865,1)" y="0" font-size="76.45" font-weight="normal" fill="#000"><tspan x="1687.30">V</tspan><tspan x="1736.34">m</tspan><tspan x="1794.93">p</tspan><tspan x="1836.49">p</tspan><tspan x="1875.86">t</tspan></text>
<text transform="translate(0,1452.50) scale(0.8748,1)" y="0" font-size="77.03" font-weight="bold" fill="#000"><tspan x="1174.57">V</tspan><tspan x="1229.55">o</tspan><tspan x="1277.66">l</tspan><tspan x="1300.12">t</tspan><tspan x="1325.54">a</tspan><tspan x="1371.44">g</tspan><tspan x="1421.63">e</tspan></text>
<text transform="translate(73.40,0) rotate(-90) scale(1.0701,1)" y="0" font-size="71.66" font-weight="bold" fill="#000"><tspan x="-740.93">P</tspan><tspan x="-694.71">o</tspan><tspan x="-648.01">w</tspan><tspan x="-593.95">e</tspan><tspan x="-558.91">r</tspan></text>
</svg>
</body></html>
